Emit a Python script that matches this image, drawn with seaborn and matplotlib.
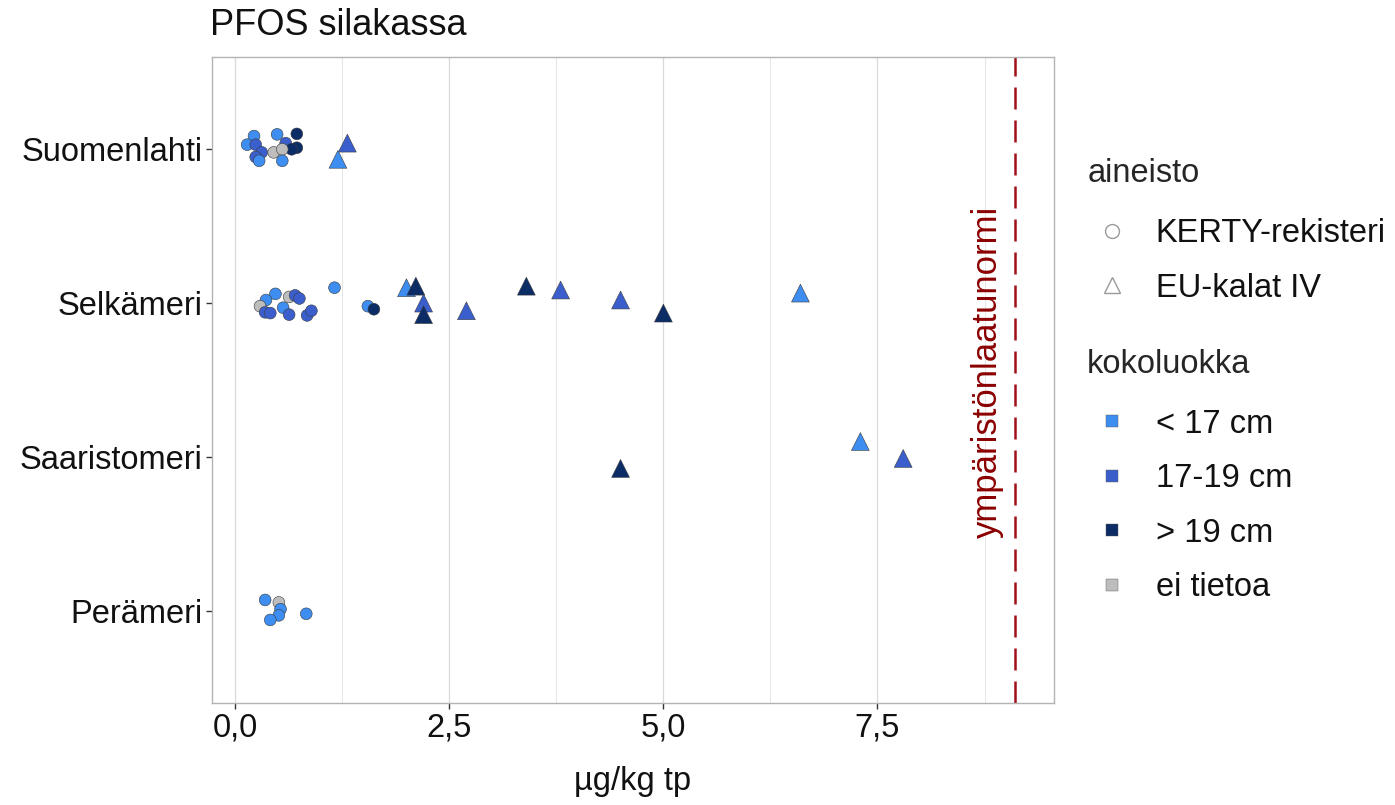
import numpy as np
import pandas as pd
import matplotlib
matplotlib.use('Agg')
import matplotlib.pyplot as plt
import seaborn as sns
from matplotlib.lines import Line2D
from matplotlib.ticker import FuncFormatter, MultipleLocator

# alueet ylhäältä alas
alueet = ['Suomenlahti', 'Selkämeri', 'Saaristomeri', 'Perämeri']

# havainnot: alue, PFOS (µg/kg tp), pystysuora hajonta kuvassa, aineisto, kokoluokka
alue = (['Suomenlahti'] * 16 + ['Selkämeri'] * 25 + ['Saaristomeri'] * 3 + ['Perämeri'] * 6)
pfos = [0.22, 0.49, 0.72, 0.14, 0.24, 0.59, 0.72, 0.66, 0.31, 0.45, 0.55, 0.24, 0.28, 0.55, 1.31, 1.20,
        0.47, 0.36, 0.29, 0.35, 0.41, 0.56, 0.63, 0.63, 0.70, 0.75, 0.84, 0.89, 1.16, 1.55, 1.62,
        2.00, 2.11, 2.20, 2.20, 2.70, 3.40, 3.80, 4.50, 5.00, 6.60,
        4.50, 7.30, 7.80,
        0.35, 0.51, 0.53, 0.51, 0.41, 0.83]
hajonta = [-0.086, -0.097, -0.10, -0.03, -0.03, -0.04, -0.01, 0.0, 0.02, 0.02, 0.0, 0.05, 0.075, 0.075, -0.04, 0.065,
           -0.06, -0.02, 0.02, 0.06, 0.065, 0.03, 0.075, -0.04, -0.05, -0.03, 0.08, 0.05, -0.10, 0.02, 0.04,
           -0.10, -0.11, 0.0, 0.075, 0.05, -0.11, -0.085, -0.02, 0.065, -0.065,
           0.075, -0.10, 0.01,
           -0.07, -0.054, -0.01, 0.03, 0.06, 0.02]
K, E = 'KERTY-rekisteri', 'EU-kalat IV'
aineisto = [K] * 14 + [E] * 2 + [K] * 15 + [E] * 10 + [E] * 3 + [K] * 6
L, M, D, G = '< 17 cm', '17-19 cm', '> 19 cm', 'ei tietoa'
koko = [L, L, D, L, M, M, D, D, M, G, G, M, L, L, M, L,
        L, L, G, M, M, L, M, G, M, M, M, M, L, L, D,
        L, D, M, D, M, D, M, M, D, L,
        D, L, M,
        L, G, L, L, L, L]

kokoluokat = [L, M, D, G]
varit = ['#3d8ef0', '#3a5fcd', '#0c2c66', '#bdbdbd']
normi = 9.1

df = pd.DataFrame({'alue': alue, 'pfos': pfos, 'hajonta': hajonta,
                   'aineisto': aineisto, 'koko': koko})
df['y'] = df['alue'].map({a: i for i, a in enumerate(alueet)}) + df['hajonta']

sns.set_style('white')
plt.rcParams['font.family'] = ['Liberation Sans', 'DejaVu Sans']
fs = 23.5

fig = plt.figure(figsize=(13.95, 8.05), dpi=100)
ax = fig.add_axes([0.152, 0.1267, 0.6035, 0.8025])

paletti = dict(zip(kokoluokat, varit))
sns.scatterplot(data=df[df['aineisto'] == K], x='pfos', y='y', hue='koko', palette=paletti,
                marker='o', s=72, edgecolor='#3a3a3a', linewidth=0.4, legend=False, ax=ax, zorder=3)
sns.scatterplot(data=df[df['aineisto'] == E], x='pfos', y='y', hue='koko', palette=paletti,
                marker='^', s=165, edgecolor='#3a3a3a', linewidth=0.4, legend=False, ax=ax, zorder=3)

ax.axvline(normi, color='#a0101a', lw=1.8, ls=(0, (8.8, 4.4)), zorder=2)
ax.text(8.78, 1.45, 'ympäristönlaatunormi', rotation=90, ha='center', va='center',
        color='#8b0000', fontsize=25)

ax.set_xlim(-0.27, 9.56)
ax.set_ylim(3.6, -0.6)
ax.set_yticks(range(len(alueet)))
ax.set_yticklabels(alueet)
ax.xaxis.set_major_locator(MultipleLocator(2.5))
ax.xaxis.set_minor_locator(MultipleLocator(1.25))
ax.xaxis.set_major_formatter(FuncFormatter(lambda v, p: f'{v:.1f}'.replace('.', ',')))
ax.grid(True, axis='x', which='major', color='#d9d9d9', lw=0.9)
ax.grid(True, axis='x', which='minor', color='#e6e6e6', lw=0.7)
ax.grid(False, axis='y')
ax.set_axisbelow(True)
for s in ax.spines.values():
    s.set_color('#b3b3b3')
    s.set_linewidth(1.0)
ax.tick_params(axis='both', which='major', length=4, width=1.0, color='#333333',
               labelsize=fs, labelcolor='#111111', pad=3, left=True, bottom=True)
ax.tick_params(axis='x', which='minor', length=0)
ax.set_xlabel('µg/kg tp', fontsize=fs, labelpad=16, color='#111111')
ax.set_ylabel('')
ax.set_title('PFOS silakassa', loc='left', fontsize=26, pad=16, x=-0.003, color='#111111')

# selitteet
h1 = [Line2D([], [], marker='o', ls='', mfc='none', mec='#9a9a9a', ms=10, mew=1.0),
      Line2D([], [], marker='^', ls='', mfc='none', mec='#9a9a9a', ms=12, mew=1.0)]
leg1 = fig.legend(h1, [K, E], title='aineisto', loc='upper left', bbox_to_anchor=(0.770, 0.82),
                  frameon=False, fontsize=fs, title_fontsize=fs, labelspacing=0.72,
                  handletextpad=0.6, handlelength=1.5, borderaxespad=0, labelcolor='#111111')
leg1._legend_box.align = 'left'
leg1._legend_box.sep = 21
h2 = [Line2D([], [], marker='s', ls='', mfc=c, mec='#5a5a5a', ms=9, mew=0.3) for c in varit]
leg2 = fig.legend(h2, kokoluokat, title='kokoluokka', loc='upper left', bbox_to_anchor=(0.770, 0.583),
                  frameon=False, fontsize=fs, title_fontsize=fs, labelspacing=0.72,
                  handletextpad=0.6, handlelength=1.5, borderaxespad=0, labelcolor='#111111')
leg2._legend_box.align = 'left'
leg2._legend_box.sep = 21

fig.savefig('out.png', dpi=100)
